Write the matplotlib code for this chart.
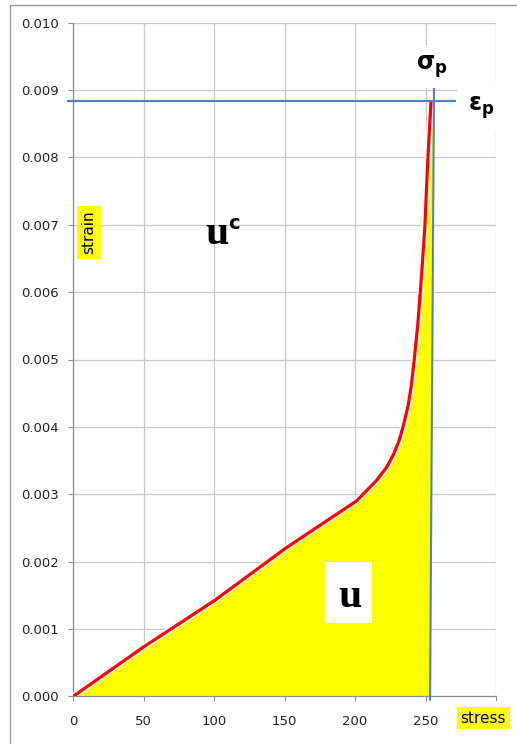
import numpy as np
import matplotlib
matplotlib.use('Agg')
import matplotlib.pyplot as plt
import matplotlib.patheffects as pe
from matplotlib.patches import Rectangle

# stress-strain curve
stress = [0, 50.4, 100.1, 150.8, 201.0, 215.0, 222.4, 227.5, 231.3, 234.0, 237.5,
          239.8, 242.0, 244.4, 246.3, 248.0, 249.6, 250.6, 251.7, 253.9]
strain = [0, 0.00074, 0.00142, 0.00220, 0.00290, 0.00320, 0.00340, 0.00360, 0.00380, 0.00400, 0.00430,
          0.00460, 0.00500, 0.00550, 0.00600, 0.00650, 0.00700, 0.00750, 0.00800, 0.00883]

# peak marker lines
sigma_p_x = [253.2, 256.0]
sigma_p_y = [-0.00005, 0.00903]
eps_p_x = [-3.7, 271.0]
eps_p_y = [0.00884, 0.00884]

xticks = [0, 50, 100, 150, 200, 250, 300]
xticklabels = ['0', '50', '100', '150', '200', '250', '']
yticks = np.arange(0, 0.0101, 0.001)

plt.rcParams['mathtext.fontset'] = 'dejavusans'

fig = plt.figure(figsize=(5.17, 7.44), dpi=100)
ax = fig.add_axes([73.3/517, (744-696.3)/744, (496-73.3)/517, (696.3-22.7)/744])

# yellow area between curve and sigma_p line
s_arr = np.array(strain)
right = np.interp(s_arr, sigma_p_y, sigma_p_x)
ax.fill_betweenx(s_arr, stress, right, color='#ffff00', lw=0, zorder=2)

ax.plot(stress, strain, color='red', lw=2.3, zorder=4, solid_capstyle='round',
        solid_joinstyle='round',
        path_effects=[pe.Stroke(linewidth=4.3, foreground='white'), pe.Normal()])
ax.plot(sigma_p_x, sigma_p_y, color='#4f81bd', lw=1.5, zorder=5, clip_on=False)
ax.plot(eps_p_x, eps_p_y, color='#4f81bd', lw=1.6, zorder=5, clip_on=False)

ax.set_xlim(0, 300)
ax.set_ylim(0, 0.010)
ax.set_xticks(xticks)
ax.set_xticklabels(xticklabels)
ax.set_yticks(yticks)
ax.set_yticklabels(['%.3f' % v for v in yticks])
ax.grid(True, color='#c8c8c8', lw=0.9, zorder=0)
ax.set_axisbelow(True)
for sp in ['top', 'right']:
    ax.spines[sp].set_visible(False)
for sp in ['left', 'bottom']:
    ax.spines[sp].set_color('#8c8c8c')
    ax.spines[sp].set_linewidth(0.9)
ax.tick_params(axis='both', direction='out', length=3.6, color='#8c8c8c',
               labelsize=9.5, labelcolor='#222222')
ax.tick_params(axis='y', pad=7)
ax.tick_params(axis='x', pad=10)

# labels
ax.text(10.9, 0.00689, 'strain', rotation=90, ha='center', va='center', fontsize=11,
        bbox=dict(boxstyle='square,pad=0.3', fc='#ffff00', ec='none'), zorder=6)
ax.text(291, -0.000324, 'stress', ha='center', va='center', fontsize=11,
        bbox=dict(boxstyle='square,pad=0.25', fc='#ffff00', ec='none'), zorder=6,
        clip_on=False)

ax.text(101.8, 0.00687, 'u', ha='center', va='center', fontsize=30,
        family='Liberation Serif', weight='bold', zorder=6)
ax.text(113.9, 0.00702, 'c', ha='center', va='center', fontsize=14,
        weight='bold', zorder=6)

ax.add_patch(Rectangle((178.6, 0.001088), 33.3, 0.000908, fc='white', ec='none', zorder=5))
ax.text(196.2, 0.001467, 'u', ha='center', va='center', fontsize=30,
        family='Liberation Serif', weight='bold', zorder=6)

ax.text(243.2, 0.009305, r'σ$_\mathbf{p}$', ha='left', va='baseline', fontsize=17,
        weight='bold', zorder=6,
        bbox=dict(boxstyle='square,pad=0.35', fc='white', ec='none'))
ax.text(280.1, 0.008697, r'ε$_\mathbf{p}$', ha='left', va='baseline', fontsize=17,
        weight='bold', zorder=6, clip_on=False,
        bbox=dict(boxstyle='square,pad=0.45', fc='white', ec='none'))

# chart border
fig.patches.append(Rectangle((10/517, -0.05), 1.1, (744-4.5)/744 + 0.05, fill=False,
                             ec='#9a9a9a', lw=1.0, transform=fig.transFigure))

fig.savefig('out.png', dpi=100)
